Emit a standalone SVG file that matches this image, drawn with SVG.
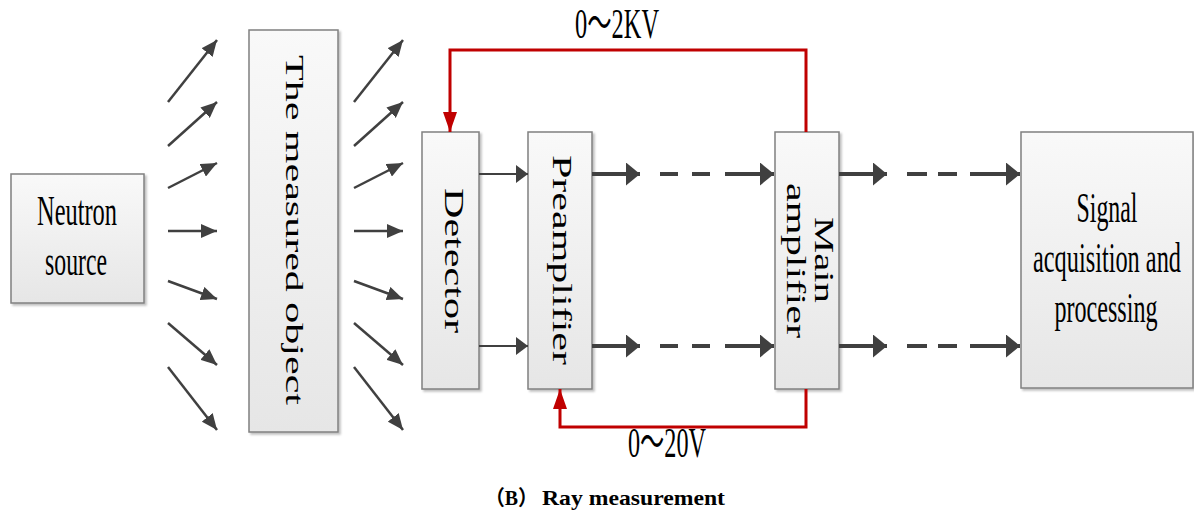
<svg xmlns="http://www.w3.org/2000/svg" width="1194" height="510" viewBox="0 0 1194 510">
<defs>
<linearGradient id="g" x1="0" y1="0" x2="0" y2="1">
<stop offset="0" stop-color="#f9f9f9"/>
<stop offset="1" stop-color="#e6e6e6"/>
</linearGradient>
<filter id="sh" x="-10%" y="-10%" width="130%" height="130%">
<feDropShadow dx="2" dy="2" stdDeviation="1" flood-color="#000" flood-opacity="0.25"/>
</filter>
<marker id="ad" markerUnits="userSpaceOnUse" viewBox="0 0 16 14" markerWidth="16" markerHeight="14" refX="16" refY="7" orient="auto">
<path d="M0,0 L16,7 L0,14 z" fill="#404040"/>
</marker>
<marker id="at" markerUnits="userSpaceOnUse" viewBox="0 0 12 18" markerWidth="12" markerHeight="18" refX="12" refY="9" orient="auto">
<path d="M0,0 L12,9 L0,18 z" fill="#404040"/>
</marker>
<marker id="ab" markerUnits="userSpaceOnUse" viewBox="0 0 14 23" markerWidth="14" markerHeight="23" refX="14" refY="11.5" orient="auto">
<path d="M0,0 L14,11.5 L0,23 z" fill="#404040"/>
</marker>
<marker id="ar" markerUnits="userSpaceOnUse" viewBox="0 0 20 14" markerWidth="20" markerHeight="14" refX="20" refY="7" orient="auto">
<path d="M0,0 L20,7 L0,14 z" fill="#c00000"/>
</marker>
</defs>
<style>
.box{fill:url(#g);stroke:#808080;stroke-width:1.5;filter:url(#sh)}
.t{font-family:"Liberation Serif","Noto Sans CJK SC",serif;fill:#000}
.h{font-size:24px;text-anchor:middle}
.v{font-size:27px;text-anchor:middle}
.d{stroke:#404040;stroke-width:2.5;fill:none;marker-end:url(#ad)}
.n{stroke:#404040;stroke-width:2;fill:none;marker-end:url(#at)}
.k{stroke:#404040;stroke-width:4;fill:none}
.ka{marker-end:url(#ab)}
.r{stroke:#c00000;stroke-width:3;fill:none;marker-end:url(#ar)}
</style>

<g id="neutron-source">
<rect class="box" x="11" y="174" width="133" height="129"/>
<text class="t h" transform="translate(77,225) scale(1,1.75)" textLength="80" lengthAdjust="spacingAndGlyphs">Neutron</text>
<text class="t h" transform="translate(76,275) scale(1,1.75)" textLength="62" lengthAdjust="spacingAndGlyphs">source</text>
</g>

<g id="measured-object">
<rect class="box" x="249" y="30" width="89" height="402"/>
<text class="t" font-size="25" text-anchor="middle" transform="translate(286,230) rotate(90)" textLength="350" lengthAdjust="spacingAndGlyphs">The measured object</text>
</g>

<g id="detector">
<rect class="box" x="422" y="132" width="57" height="257"/>
<text class="t v" transform="translate(445,260.5) rotate(90)" textLength="145" lengthAdjust="spacingAndGlyphs">Detector</text>
</g>

<g id="preamplifier">
<rect class="box" x="528" y="132" width="64" height="257"/>
<text class="t v" transform="translate(553,260) rotate(90)" textLength="210" lengthAdjust="spacingAndGlyphs">Preamplifier</text>
</g>

<g id="main-amplifier">
<rect class="box" x="775" y="132" width="64" height="257"/>
<text class="t v" transform="translate(815,260) rotate(90)" textLength="86" lengthAdjust="spacingAndGlyphs">Main</text>
<text class="t v" transform="translate(787,260.5) rotate(90)" textLength="155" lengthAdjust="spacingAndGlyphs">amplifier</text>
</g>

<g id="signal-acquisition">
<rect class="box" x="1021" y="132" width="172" height="256"/>
<text class="t h" transform="translate(1107,222) scale(1,1.75)" textLength="61" lengthAdjust="spacingAndGlyphs">Signal</text>
<text class="t h" transform="translate(1107,272) scale(1,1.75)" textLength="148" lengthAdjust="spacingAndGlyphs">acquisition and</text>
<text class="t h" transform="translate(1106,322) scale(1,1.75)" textLength="103" lengthAdjust="spacingAndGlyphs">processing</text>
</g>

<g id="connectors">
<path class="d" d="M168,102 L217,40"/>
<path class="d" d="M168,146 L217,102"/>
<path class="d" d="M168,188 L217,163"/>
<path class="d" d="M168,231 L217,231"/>
<path class="d" d="M168,281 L217,299"/>
<path class="d" d="M168,323 L217,365"/>
<path class="d" d="M168,367 L217,430"/>
<path class="d" d="M354,102 L403,40"/>
<path class="d" d="M354,146 L403,102"/>
<path class="d" d="M354,188 L403,163"/>
<path class="d" d="M354,231 L403,231"/>
<path class="d" d="M354,281 L403,299"/>
<path class="d" d="M354,323 L403,365"/>
<path class="d" d="M354,367 L403,430"/>

<path class="n" d="M479,174 H528"/>
<path class="n" d="M479,346 H528"/>

<path class="k ka" d="M592,174 H640"/>
<path class="k" d="M660,174 H678 M692,174 H710"/>
<path class="k ka" d="M725,174 H774"/>
<path class="k ka" d="M592,346 H640"/>
<path class="k" d="M660,346 H678 M692,346 H710"/>
<path class="k ka" d="M725,346 H774"/>

<path class="k ka" d="M839,174 H887"/>
<path class="k" d="M907,174 H927 M938,174 H957"/>
<path class="k ka" d="M970,174 H1020"/>
<path class="k ka" d="M839,346 H887"/>
<path class="k" d="M907,346 H927 M938,346 H957"/>
<path class="k ka" d="M970,346 H1020"/>

<path class="r" d="M806,132 V50 H450 V132"/>
<path class="r" d="M806,389 V427 H560 V389"/>
<text class="t h" transform="translate(617,38) scale(1,1.75)" textLength="84" lengthAdjust="spacingAndGlyphs">0～2KV</text>
<text class="t h" transform="translate(667,457) scale(1,1.75)" textLength="78" lengthAdjust="spacingAndGlyphs">0～20V</text>
</g>

<text class="t" y="505" font-size="21" font-weight="bold"><tspan x="485" textLength="53" lengthAdjust="spacingAndGlyphs">（B）</tspan><tspan x="542" font-size="22" textLength="183" lengthAdjust="spacingAndGlyphs">Ray measurement</tspan></text>
</svg>
